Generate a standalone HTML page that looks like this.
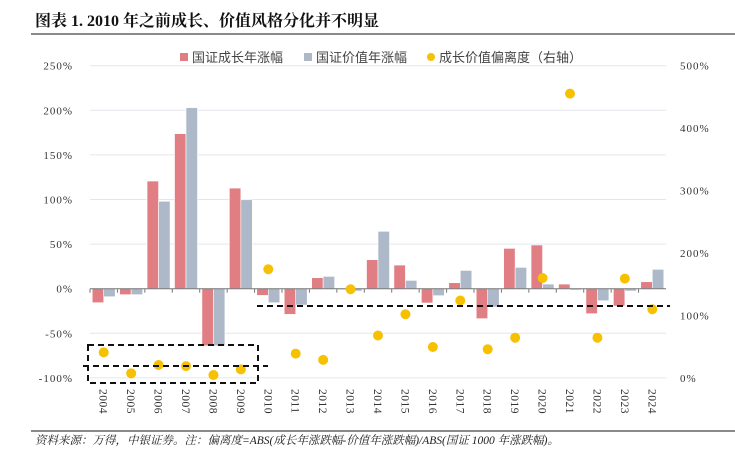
<!DOCTYPE html>
<html><head><meta charset="utf-8"><style>
body{margin:0;background:#fff;width:735px;height:454px;overflow:hidden}
svg{display:block}
</style></head><body>
<svg width="735" height="454" xmlns="http://www.w3.org/2000/svg">
<text x="35" y="26" font-family="'Liberation Serif','Noto Serif CJK SC',serif" font-size="16" font-weight="bold" fill="#111">图表 1. 2010 年之前成长、价值风格分化并不明显</text>
<line x1="31" y1="34" x2="735" y2="34" stroke="#444" stroke-width="1.2"/>
<g id="grid"></g><g id="bars"></g><g id="axes"></g><g id="dots"></g>
<g font-family="'Liberation Sans','Noto Sans CJK SC',sans-serif" font-size="13" fill="#444">
<rect x="180" y="53" width="8" height="8" fill="#e07e83"/>
<text x="192" y="62">国证成长年涨幅</text>
<rect x="304" y="53" width="8" height="8" fill="#adb8c9"/>
<text x="316" y="62">国证价值年涨幅</text>
<circle cx="431" cy="57" r="4" fill="#f7c000"/>
<text x="439" y="62">成长价值偏离度（右轴）</text>
</g>
<rect x="88" y="345" width="170" height="38" fill="none" stroke="#111" stroke-width="2" stroke-dasharray="6,4"/>
<line x1="83" y1="366" x2="268" y2="366" stroke="#111" stroke-width="2" stroke-dasharray="6,4"/>
<line x1="257" y1="306" x2="670" y2="306" stroke="#111" stroke-width="2" stroke-dasharray="6,4"/>
<line x1="31" y1="431" x2="735" y2="431" stroke="#444" stroke-width="1.2"/>
<text x="35" y="444" font-family="'Liberation Serif','Noto Serif CJK SC',serif" font-size="11.5" font-style="italic" fill="#222">资料来源：万得，中银证券。注：偏离度=ABS(成长年涨跌幅-价值年涨跌幅)/ABS(国证 1000 年涨跌幅)。</text>
</svg>
<script>
const years=["2004","2005","2006","2007","2008","2009","2010","2011","2012","2013","2014","2015","2016","2017","2018","2019","2020","2021","2022","2023","2024"];
const growth=[-15.7,-6.7,120.7,173.8,-64,112.8,-7.5,-28.8,12.3,-1,32.5,26.5,-16,6.7,-33.6,45.2,49,5.2,-28,-19.4,7.8];
const valueS=[-9,-6.7,98,203,-64,99.7,-15.7,-18.3,13.8,-2.6,64.3,9.3,-7.8,20.5,-20.5,23.9,5.2,-1.5,-13.5,-2.6,21.7];
const deviation=[41,7.5,20.8,19,4.8,13.9,174,39,29,142,68,102,49.6,124,46,64.5,160,455,64.5,159,110];
const leftTicks=["250%","200%","150%","100%","50%","0%","-50%","-100%"];
const leftTickVals=[250,200,150,100,50,0,-50,-100];
const rightTicks=["500%","400%","300%","200%","100%","0%"];
const rightTickVals=[500,400,300,200,100,0];
const NS="http://www.w3.org/2000/svg";
const X0=90,X1=666,Y0=288.7,PPL=0.892,R0=378,PPR=0.625;
const band=(X1-X0)/years.length;
const yL=v=>Y0-v*PPL, yR=v=>R0-v*PPR, xc=i=>X0+band*(i+0.5);
function mk(t,a,p){const e=document.createElementNS(NS,t);for(const k in a)e.setAttribute(k,a[k]);p.appendChild(e);return e;}
const grid=document.getElementById('grid'),bars=document.getElementById('bars'),axes=document.getElementById('axes'),dots=document.getElementById('dots');
const F="'Liberation Serif','Noto Serif CJK SC',serif";
leftTickVals.forEach((v,i)=>{
 const y=yL(v);
 if(v!==0){const g=mk('line',{x1:X0,x2:X1,y1:y,y2:y,stroke:'#e4e6ee','stroke-width':1},grid);
 
 }
 const t=mk('text',{x:73,y:y+4,'text-anchor':'end','font-family':F,'font-size':11,fill:'#333','letter-spacing':'1'},axes);
 t.textContent=leftTicks[i];
 
 
});
rightTickVals.forEach((v,i)=>{
 const t=mk('text',{x:680,y:yR(v)+4,'font-family':F,'font-size':11,fill:'#333','letter-spacing':'1'},axes);
 t.textContent=rightTicks[i];
 
 
});
const bw=11.5;
years.forEach((yr,i)=>{
 const c=xc(i);
 [[growth[i],'#e07e83',c-bw,'bar-growth'],[valueS[i],'#adb8c9',c,'bar-value']].forEach(([v,col,x,n])=>{
  const y=Math.min(yL(v),Y0),h=Math.abs(yL(v)-Y0);
  const r=mk('rect',{x:x,y:y,width:bw,height:h,fill:col,stroke:'#fff','stroke-width':0.6},bars);
  
  
 });
 const d=mk('circle',{cx:c,cy:yR(deviation[i]),r:5,fill:'#f7c000'},dots);
 
 
 const tk=mk('line',{x1:X0+band*i,x2:X0+band*i,y1:Y0,y2:Y0+4,stroke:'#777'},axes);
 
 
 const t=mk('text',{x:0,y:0,transform:`translate(${c-4},389) rotate(90)`,'font-family':F,'font-size':11.5,fill:'#333','letter-spacing':'0.5'},axes);
 t.textContent=yr;
 
 
});
const ax=mk('line',{x1:X0,x2:X1,y1:Y0,y2:Y0,stroke:'#777','stroke-width':1},axes);


</script>
</body></html>
